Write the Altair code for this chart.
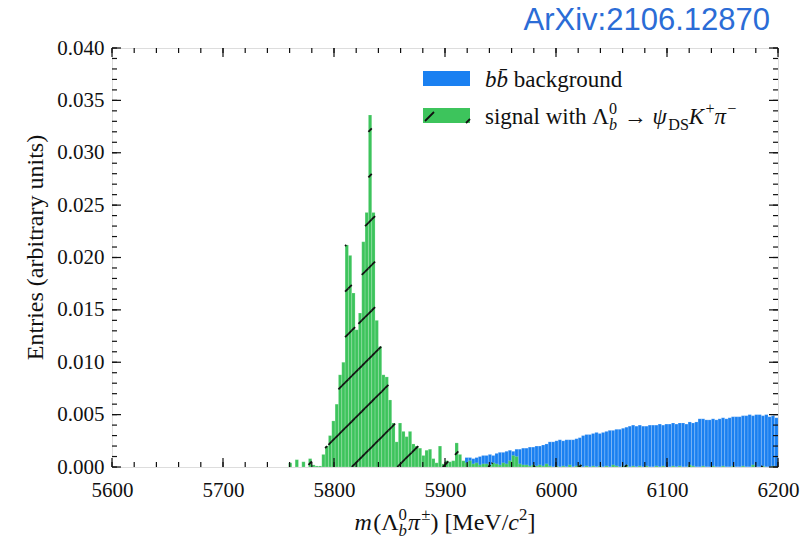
import math
import altair as alt
import pandas as pd

# ---------------- data (3 MeV bins) ----------------
BIN = 3
green_start = 5753
green_vals = [
    0.0, 0.0, 0.0004, 0.0, 0.0007, 0.0, 0.0005, 0.0, 0.0008, 0.0002,
    0.0001, 0.0001, 0.0012, 0.0020, 0.0030, 0.0044, 0.0060, 0.0088, 0.0100, 0.0212,
    0.0202, 0.0166, 0.0131, 0.0147, 0.0215, 0.0243, 0.0336, 0.0243, 0.0140, 0.0115,
    0.0088, 0.0086, 0.0064, 0.0042, 0.0024, 0.0042, 0.0034, 0.0029, 0.0034, 0.0022,
    0.0020, 0.0018, 0.0011, 0.0016, 0.0017, 0.0008, 0.0004, 0.0020, 0.0003, 0.0006,
    0.0005, 0.0006, 0.0023, 0.0012, 0.0006, 0.0004, 0.0006, 0.0003, 0.0004, 0.0002,
    0.0003, 0.0003, 0.0002, 0.0004, 0.0003, 0.0002, 0.0004, 0.0003, 0.0006, 0.0011,
    0.0010, 0.0003, 0.0002, 0.0002, 0.0001, 0.0002, 0.0001, 0.0002, 0.0001, 0.0003,
    0.0001, 0.0, 0.0001, 0.0, 0.0001, 0.0, 0.0002, 0.0, 0.0001, 0.0002,
    0.0, 0.0001, 0.0, 0.0001, 0.0, 0.0001, 0.0, 0.0001, 0.0, 0.0002,
    0.0001, 0.0, 0.0001, 0.0002, 0.0, 0.0001, 0.0, 0.0001, 0.0, 0.0001,
    0.0, 0.0, 0.0001, 0.0, 0.0001, 0.0, 0.0, 0.0001, 0.0, 0.0001,
    0.0, 0.0, 0.0002, 0.0001, 0.0, 0.0, 0.0001, 0.0, 0.0, 0.0001,
    0.0, 0.0, 0.0001, 0.0, 0.0, 0.0001, 0.0, 0.0, 0.0001, 0.0,
    0.0, 0.0002, 0.0, 0.0, 0.0001, 0.0, 0.0, 0.0001, 0.0,
]
blue_start = 5918
blue_vals = [
    0.0009, 0.0009, 0.0008, 0.0009, 0.0010, 0.0011, 0.0011, 0.0012, 0.0011, 0.0013,
    0.0014, 0.0014, 0.0015, 0.0016, 0.0015, 0.0017, 0.0017, 0.0018, 0.0018, 0.0019,
    0.0019, 0.0020, 0.0020, 0.0021, 0.0022, 0.0024, 0.0024, 0.0025, 0.0026, 0.0025,
    0.0026, 0.0026, 0.0026, 0.0027, 0.0028, 0.0030, 0.0031, 0.0031, 0.0032, 0.0033,
    0.0032, 0.0033, 0.0034, 0.0035, 0.0035, 0.0036, 0.0036, 0.0037, 0.0038, 0.0039,
    0.0040, 0.0039, 0.0040, 0.0039, 0.0039, 0.0040, 0.0040, 0.0040, 0.0041, 0.0040,
    0.0041, 0.0041, 0.0042, 0.0041, 0.0042, 0.0042, 0.0041, 0.0043, 0.0042, 0.0043,
    0.0046, 0.0046, 0.0045, 0.0045, 0.0046, 0.0045, 0.0046, 0.0047, 0.0046, 0.0047,
    0.0048, 0.0048, 0.0048, 0.0049, 0.0049, 0.0050, 0.0049, 0.0050, 0.0050, 0.0049,
    0.0050, 0.0048, 0.0049, 0.0047,
]
x_major = [5600, 5700, 5800, 5900, 6000, 6100, 6200]
x_minor = list(range(5600, 6201, 20))
y_major = [0.000, 0.005, 0.010, 0.015, 0.020, 0.025, 0.030, 0.035, 0.040]
y_minor = [round(i * 0.001, 3) for i in range(0, 41)]

XMIN, XMAX, YMAX = 5600, 6200, 0.040
W, H = 666, 419
BLUE = "#1a80f1"
GREEN = "#3dc45c"
FONT = "Liberation Serif"

green = pd.DataFrame({"lo": [green_start + BIN * i for i in range(len(green_vals))], "v": green_vals})
green["hi"] = green["lo"] + BIN
blue = pd.DataFrame({"lo": [blue_start + BIN * i for i in range(len(blue_vals))], "v": blue_vals})
blue["hi"] = blue["lo"] + BIN

# hatch segments (45 degree in pixel space) clipped to the green histogram
r = (W / (XMAX - XMIN)) / (H / YMAX)
spacing, phase = 41.0, 5775.0
segs = []
for a, h in zip(green["lo"], green["v"]):
    if h <= 0:
        continue
    b = a + BIN
    kmin = math.ceil((a - h / r - phase) / spacing)
    kmax = math.floor((b - phase) / spacing)
    for k in range(kmin, kmax + 1):
        mc = phase + k * spacing
        m1, m2 = max(a, mc), min(b, mc + h / r)
        if m2 > m1:
            segs.append({"x": m1, "x2": m2, "y": (m1 - mc) * r, "y2": (m2 - mc) * r})
hatch = pd.DataFrame(segs)

xs = alt.Scale(domain=[XMIN, XMAX], nice=False, zero=False, padding=0)
ys = alt.Scale(domain=[0, YMAX], nice=False, zero=False, padding=0)

blue_bars = alt.Chart(blue).mark_rect(color=BLUE, stroke="white", strokeOpacity=0.35, strokeWidth=0.5, clip=True).encode(
    x=alt.X("lo:Q", scale=xs, axis=alt.Axis(values=x_major, format="d", ticks=False, domain=False, grid=False,
                                           labelFlush=False, labelOverlap=False,
                                           labelFont=FONT, labelFontSize=21, labelColor="#111", labelPadding=12, title=None)),
    x2="hi:Q",
    y=alt.Y("v:Q", scale=ys, axis=alt.Axis(values=y_major, format=".3f", ticks=False, domain=False, grid=False,
                                          labelFlush=False, labelOverlap=False,
                                          labelFont=FONT, labelFontSize=21, labelColor="#111", labelPadding=8, title=None)),
    y2=alt.datum(0),
)
green_bars = alt.Chart(green).mark_rect(color=GREEN, stroke="white", strokeOpacity=0.35, strokeWidth=0.5, clip=True).encode(
    x="lo:Q", x2="hi:Q", y="v:Q", y2=alt.datum(0)
)
hatch_l = alt.Chart(hatch).mark_rule(color="#111", strokeWidth=1.8, clip=True).encode(
    x="x:Q", x2="x2:Q", y="y:Q", y2="y2:Q"
)

def tick_layer(vals, length, side):
    df = pd.DataFrame({"t": vals})
    base = alt.Chart(df).mark_rule(color="#111", strokeWidth=1.2)
    if side == "bottom":
        return base.encode(x="t:Q", y=alt.value(H), y2=alt.value(H - length))
    if side == "top":
        return base.encode(x="t:Q", y=alt.value(0), y2=alt.value(length))
    if side == "left":
        return base.encode(y="t:Q", x=alt.value(0), x2=alt.value(length))
    return base.encode(y="t:Q", x=alt.value(W), x2=alt.value(W - length))

ticks = []
for side in ["bottom", "top"]:
    ticks.append(tick_layer(x_minor, 5, side))
    ticks.append(tick_layer(x_major, 9, side))
for side in ["left", "right"]:
    ticks.append(tick_layer(y_minor, 5, side))
    ticks.append(tick_layer(y_major, 9, side))

one = pd.DataFrame({"a": [0]})

def rect(x1, x2, y1, y2, color):
    return alt.Chart(one).mark_rect(color=color).encode(
        x=alt.value(x1), x2=alt.value(x2), y=alt.value(y1), y2=alt.value(y2))

def seg(x1, y1, x2, y2, w=1.8):
    return alt.Chart(one).mark_rule(color="#111", strokeWidth=w).encode(
        x=alt.value(x1), x2=alt.value(x2), y=alt.value(y1), y2=alt.value(y2))

# ------------- composed rich text -------------
TW = {" ": .25, "(": .333, ")": .333, "[": .333, "]": .333, "/": .278, "M": .889, "V": .722, "e": .444,
      "a": .444, "b": .5, "c": .444, "d": .5, "g": .5, "h": .5, "i": .278, "k": .5, "l": .278, "m": .778,
      "n": .5, "o": .5, "r": .333, "s": .389, "t": .278, "u": .5, "w": .722, "K": .722, "D": .722, "S": .556,
      "Λ": .722, "ψ": .686, "π": .549, "±": .549, "+": .564, "−": .564, "→": 1.0, "0": .5, "2": .5, "\u0304": 0}

def tw(s, size):
    return sum(TW.get(ch, .5) for ch in s) * size

def rich(pieces, size, x0, y0, align="left"):
    small = size * 0.7
    items, x = [], 0.0
    for p in pieces:
        if p[0] == "stack":
            _, sp, sb, spi, sbi = p
            items.append((sp, spi, small, x, -0.42 * size))
            items.append((sb, sbi, small, x, 0.26 * size))
            x += max(tw(sp, small), tw(sb, small)) + 1
        else:
            t, it, kind = p
            sz = size if kind == "n" else small
            dy = 0 if kind == "n" else (-0.42 * size if kind == "sup" else 0.26 * size)
            lead = len(t) - len(t.lstrip(" "))
            trail = len(t) - len(t.rstrip(" "))
            core = t.strip(" ")
            x += lead * 0.25 * sz
            items.append((core, it, sz, x, dy))
            x += tw(core, sz) + trail * 0.25 * sz
    off = x0 - (x / 2 if align == "center" else 0)
    layers = []
    for t, it, sz, dx, dy in items:
        layers.append(alt.Chart(one).mark_text(
            text=t, font=FONT, fontSize=sz, fontStyle="italic" if it else "normal", color="#111",
            align="left", baseline="alphabetic").encode(x=alt.value(off + dx), y=alt.value(y0 + dy)))
    return layers

xtitle = rich([("m", True, "n"), ("(", False, "n"), ("Λ", False, "n"), ("stack", "0", "b", False, True),
               ("π", True, "n"), ("±", False, "sup"), (") [MeV/", False, "n"), ("c", True, "n"),
               ("2", False, "sup"), ("]", False, "n")], 24, W / 2, H + 63, align="center")

leg1 = rich([("bb\u0304", True, "n"), (" background", False, "n")], 23, 373, 39)
leg2 = rich([("signal with Λ", False, "n"), ("stack", "0", "b", False, True),
             (" → ", False, "n"),
             ("ψ", True, "n"), ("DS", False, "sub"), ("K", True, "n"), ("+", False, "sup"),
             ("π", True, "n"), ("−", False, "sup")], 23, 373, 76)

ytitle = alt.Chart(one).mark_text(text="Entries (arbitrary units)", font=FONT, fontSize=24, color="#111",
                                  angle=270, align="center", baseline="middle").encode(
    x=alt.value(-76), y=alt.value(H / 2 - 10))

arxiv = alt.Chart(one).mark_text(text="ArXiv:2106.12870", font="Liberation Sans", fontSize=31, color="#2b6cd6",
                                 align="right", baseline="alphabetic").encode(x=alt.value(W - 8), y=alt.value(-18))

legend = [rect(311, 358, 23, 38, BLUE), rect(311, 358, 60, 75, GREEN),
          seg(313, 73, 322, 64), seg(354, 75, 358, 71)]

chart = alt.layer(blue_bars, green_bars, hatch_l, *ticks, *legend, *leg1, *leg2, *xtitle, ytitle, arxiv).properties(
    width=W, height=H, autosize=alt.AutoSizeParams(type="none"),
    padding={"left": 112, "top": 48, "right": 34, "bottom": 78},
).configure_view(stroke="#111", strokeWidth=1.5).configure(background="white")

chart.save("out.html", embed_options={"renderer": "svg", "actions": False})
